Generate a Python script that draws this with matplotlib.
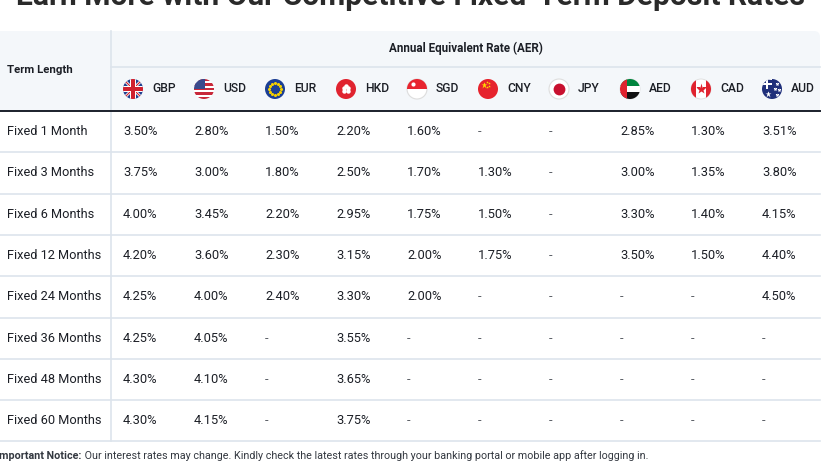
import matplotlib
matplotlib.use("Agg")
import matplotlib.pyplot as plt
from matplotlib.patches import Circle, Rectangle, FancyBboxPatch, Polygon
import numpy as np

plt.rcParams['font.family'] = ['Roboto', 'DejaVu Sans']

title = "Earn More with Our Competitive Fixed-Term Deposit Rates"
header_group = "Annual Equivalent Rate (AER)"
term_header = "Term Length"
terms = ["Fixed 1 Month", "Fixed 3 Months", "Fixed 6 Months", "Fixed 12 Months",
         "Fixed 24 Months", "Fixed 36 Months", "Fixed 48 Months", "Fixed 60 Months"]
currencies = ["GBP", "USD", "EUR", "HKD", "SGD", "CNY", "JPY", "AED", "CAD", "AUD"]
gbp = ["3.50%", "3.75%", "4.00%", "4.20%", "4.25%", "4.25%", "4.30%", "4.30%"]
usd = ["2.80%", "3.00%", "3.45%", "3.60%", "4.00%", "4.05%", "4.10%", "4.15%"]
eur = ["1.50%", "1.80%", "2.20%", "2.30%", "2.40%", "-", "-", "-"]
hkd = ["2.20%", "2.50%", "2.95%", "3.15%", "3.30%", "3.55%", "3.65%", "3.75%"]
sgd = ["1.60%", "1.70%", "1.75%", "2.00%", "2.00%", "-", "-", "-"]
cny = ["-", "1.30%", "1.50%", "1.75%", "-", "-", "-", "-"]
jpy = ["-", "-", "-", "-", "-", "-", "-", "-"]
aed = ["2.85%", "3.00%", "3.30%", "3.50%", "-", "-", "-", "-"]
cad = ["1.30%", "1.35%", "1.40%", "1.50%", "-", "-", "-", "-"]
aud = ["3.51%", "3.80%", "4.15%", "4.40%", "4.50%", "-", "-", "-"]
columns = [gbp, usd, eur, hkd, sgd, cny, jpy, aed, cad, aud]
notice_bold = "Important Notice:"
notice_text = " Our interest rates may change. Kindly check the latest rates through your banking portal or mobile app after logging in."

W, H = 827, 465
fig = plt.figure(figsize=(W / 100, H / 100), dpi=100)
ax = fig.add_axes([0, 0, 1, 1])
ax.set_xlim(0, W)
ax.set_ylim(H, 0)
ax.axis('off')

TXT = '#1c1f26'
LINE = '#dde4ec'
HDR = '#f4f7fa'

# title (cut off at top, as in the source)
ax.text(410, 5, title, ha='center', va='baseline', fontsize=21.6, weight='bold',
        color='#2a2a2a', clip_on=False)

# header background
top, mid, hbot = 31, 67, 111
right = 820
ax.add_patch(FancyBboxPatch((-20, top), right + 20, hbot - top,
                            boxstyle="round,pad=0,rounding_size=6",
                            facecolor=HDR, edgecolor='none', zorder=0, mutation_aspect=1))
ax.add_patch(Rectangle((-20, top + 10), right + 20, hbot - top - 10, facecolor=HDR, edgecolor='none', zorder=0))
ax.add_patch(Rectangle((-20, top), 30, 20, facecolor=HDR, edgecolor='none', zorder=0))

ax.plot([111, right], [mid, mid], color=LINE, lw=1.2, zorder=1)
ax.plot([0, right], [hbot, hbot], color='#1b202b', lw=1.4, zorder=2)

row_h = 41.3
row_centers = [hbot + row_h * (i + 0.5) for i in range(len(terms))]
for i in range(len(terms)):
    yl = hbot + row_h * (i + 1)
    ax.plot([0, right], [yl, yl], color=LINE, lw=1.2, zorder=1)
ax.plot([111, 111], [top, hbot + row_h * len(terms)], color=LINE, lw=1.2, zorder=1)

ax.text(7, 70, term_header, ha='left', va='center', fontsize=8.2, weight='bold', color=TXT)
ax.text(466, 48, header_group, ha='center', va='center', fontsize=8.4, weight='bold', color=TXT)

col_x = [123 + 71 * j for j in range(len(currencies))]
fy = 89
r = 10


def flag(cx, code):
    base = Circle((cx, fy), r, facecolor='white', edgecolor='none', zorder=3)
    ax.add_patch(base)
    clip = base

    def rect(x0, y0, w, h, c):
        p = Rectangle((x0, y0), w, h, facecolor=c, edgecolor='none', zorder=4)
        ax.add_patch(p)
        p.set_clip_path(clip)

    def star(x, y, s, c):
        ln, = ax.plot([x], [y], marker='*', ms=s, color=c, mec='none', zorder=5)
        ln.set_clip_path(clip)

    if code == 'GBP':
        rect(cx - r, fy - r, 2 * r, 2 * r, '#1f3f8f')
        for sgn in (1, -1):
            pw = Polygon([(cx - r, fy - sgn * r - 2), (cx - r, fy - sgn * r + 2),
                          (cx + r, fy + sgn * r + 2), (cx + r, fy + sgn * r - 2)],
                         facecolor='white', edgecolor='none', zorder=4)
            ax.add_patch(pw); pw.set_clip_path(clip)
            pr = Polygon([(cx - r, fy - sgn * r - 0.8), (cx - r, fy - sgn * r + 0.8),
                          (cx + r, fy + sgn * r + 0.8), (cx + r, fy + sgn * r - 0.8)],
                         facecolor='#d0202e', edgecolor='none', zorder=4)
            ax.add_patch(pr); pr.set_clip_path(clip)
        rect(cx - r, fy - 3, 2 * r, 6, 'white')
        rect(cx - 3, fy - r, 6, 2 * r, 'white')
        rect(cx - r, fy - 1.7, 2 * r, 3.4, '#d0202e')
        rect(cx - 1.7, fy - r, 3.4, 2 * r, '#d0202e')
    elif code == 'USD':
        n = 9
        for k in range(n):
            rect(cx - r, fy - r + k * 2 * r / n, 2 * r, 2 * r / n, '#c8283a' if k % 2 == 0 else 'white')
        rect(cx - r, fy - r, r * 1.05, r * 1.0, '#3a4a8c')
    elif code == 'EUR':
        rect(cx - r, fy - r, 2 * r, 2 * r, '#1c3f94')
        for a in np.linspace(0, 2 * np.pi, 12, endpoint=False):
            ln, = ax.plot([cx + 6 * np.cos(a)], [fy + 6 * np.sin(a)], 'o', ms=1.2, color='#f5d000', zorder=5)
            ln.set_clip_path(clip)
    elif code == 'HKD':
        rect(cx - r, fy - r, 2 * r, 2 * r, '#e0232f')
        for a in np.linspace(0, 2 * np.pi, 5, endpoint=False):
            ln, = ax.plot([cx + 2.6 * np.cos(a - np.pi / 2)], [fy + 2.6 * np.sin(a - np.pi / 2)], 'o',
                          ms=3.2, color='white', mec='none', zorder=5)
            ln.set_clip_path(clip)
    elif code == 'SGD':
        base.set_edgecolor('#dddddd'); base.set_linewidth(0.8)
        rect(cx - r, fy - r, 2 * r, r, '#e8242f')
        ln, = ax.plot([cx - 4], [fy - 5], 'o', ms=3, color='white', mec='none', zorder=5)
        ln.set_clip_path(clip)
    elif code == 'CNY':
        rect(cx - r, fy - r, 2 * r, 2 * r, '#e6232d')
        star(cx - 4.5, fy - 4, 5, '#ffde00')
        for (dx, dy) in [(-1, -7), (1, -5.5), (1, -3), (-1, -1.5)]:
            star(cx + dx, fy + dy, 2, '#ffde00')
    elif code == 'JPY':
        base.set_edgecolor('#dedede'); base.set_linewidth(0.8)
        ax.plot([cx], [fy], 'o', ms=8.5, color='#c8102e', mec='none', zorder=5)
    elif code == 'AED':
        rect(cx - r, fy - r, 2 * r, 2 * r / 3, '#00843d')
        rect(cx - r, fy - r + 2 * r / 3, 2 * r, 2 * r / 3, 'white')
        rect(cx - r, fy - r + 4 * r / 3, 2 * r, 2 * r / 3, '#111111')
        rect(cx - r, fy - r, 2 * r * 0.33, 2 * r, '#e0232f')
        base.set_edgecolor('#dddddd'); base.set_linewidth(0.6)
    elif code == 'CAD':
        base.set_edgecolor('#dddddd'); base.set_linewidth(0.6)
        rect(cx - r, fy - r, 2 * r * 0.25, 2 * r, '#e0232f')
        rect(cx + r - 2 * r * 0.25, fy - r, 2 * r * 0.25, 2 * r, '#e0232f')
        star(cx, fy, 8, '#e0232f')
    elif code == 'AUD':
        rect(cx - r, fy - r, 2 * r, 2 * r, '#1f2f7a')
        rect(cx - r, fy - r, r, 1.5, 'white')
        rect(cx - 0.75 - r / 2, fy - r, 1.5, r, 'white')
        rect(cx - r, fy - r / 2 - 0.8, r, 1.6, 'white')
        rect(cx - r, fy - r / 2 - 0.4, r, 0.8, '#d0202e')
        rect(cx - r / 2 - 0.4, fy - r, 0.8, r, '#d0202e')
        star(cx - 4.5, fy + 5, 4.5, 'white')
        for (dx, dy) in [(5, -5), (3, 0), (7, 1), (5, 6)]:
            star(cx + dx, fy + dy, 3, 'white')


for j, cur in enumerate(currencies):
    x = col_x[j]
    flag(x + 10, cur)
    ax.text(x + 29, fy, cur, ha='left', va='center', fontsize=8.7, weight='medium', color=TXT)
    for i, v in enumerate(columns[j]):
        ax.text(x, row_centers[i], v, ha='left', va='center', fontsize=9.3,
                color='#5a5f66' if v == '-' else TXT)

for i, t in enumerate(terms):
    ax.text(7, row_centers[i], t, ha='left', va='center', fontsize=9.2, color=TXT)

# notice (first letter cut at left edge, as in the source)
tb = ax.text(-3.5, 456, notice_bold, ha='left', va='center', fontsize=7.72, weight='bold', color='#333840')
fig.canvas.draw()
bb = tb.get_window_extent(renderer=fig.canvas.get_renderer())
ax.text(bb.x1, 456, notice_text, ha='left', va='center', fontsize=7.72, color='#333840')

fig.savefig("out.png", dpi=100)
